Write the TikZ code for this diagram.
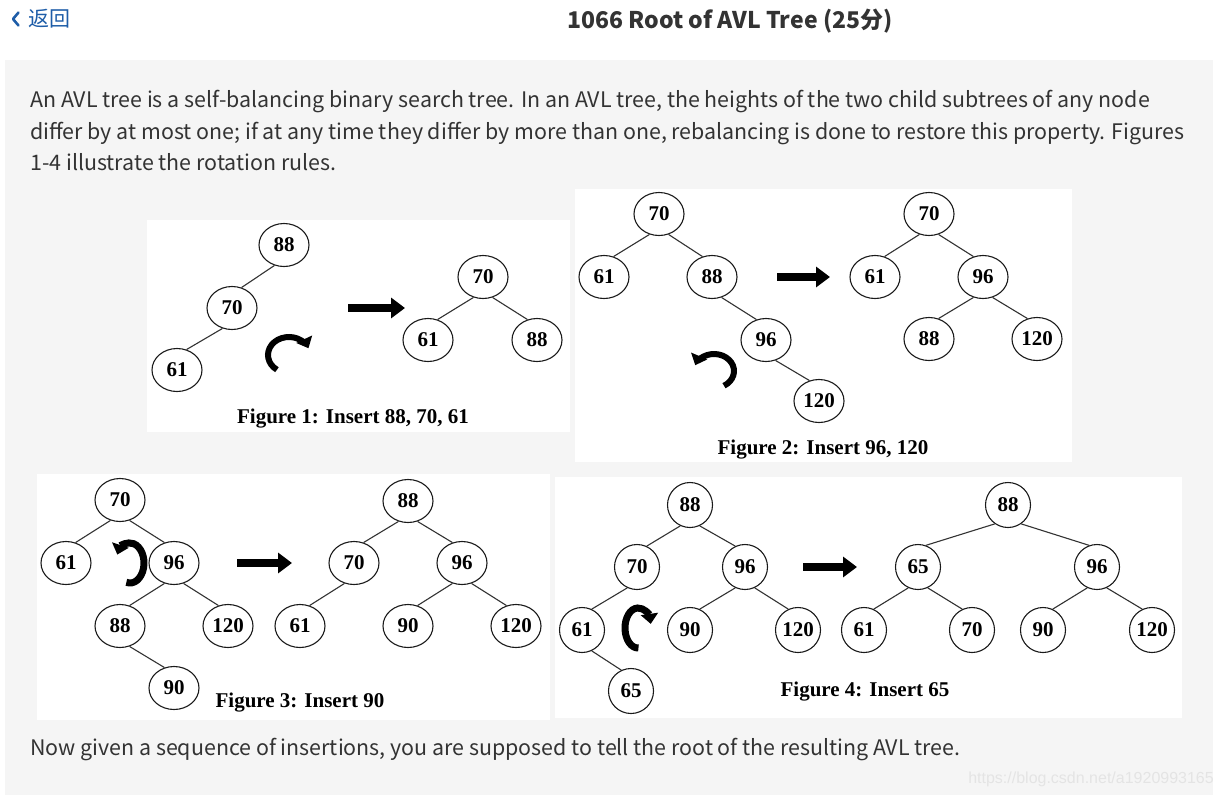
\documentclass[tikz,border=0pt]{standalone}
\usepackage{fontspec}
\usetikzlibrary{shapes.geometric,arrows.meta}
\newfontfamily\webfont{Noto Sans CJK SC}
\newfontfamily\timesfont{Liberation Serif}
\newfontfamily\arialfont{Liberation Sans}
\definecolor{panel}{HTML}{F5F5F5}
\definecolor{txt}{HTML}{333333}
\definecolor{link}{HTML}{1E5DA8}
\definecolor{wm}{HTML}{E4E4E4}
\definecolor{ink}{HTML}{1A1A1A}
\definecolor{edgec}{HTML}{333333}
\begin{document}
\begin{tikzpicture}[x=1pt,y=1pt,
  tn/.style={draw=ink, line width=1.1pt, ellipse, minimum width=50pt, minimum height=43pt, inner sep=0pt, fill=white, text=black, font=\timesfont\bfseries\fontsize{21}{21}\selectfont},
  cn/.style={tn, circle, minimum size=45pt},
  edge/.style={draw=edgec, line width=1.1pt},
  figbox/.style={fill=white, draw=none},
  figcap/.style={font=\timesfont\bfseries\fontsize{21}{21}\selectfont, text=black, inner sep=0pt},
  blockarrow/.style={line width=7.5pt, draw=black, -{Triangle[length=14pt,width=20pt]}},
  rot/.style={line width=6pt, draw=black, -{Triangle[length=10pt,width=17pt]}},
  para/.style={anchor=base west, inner sep=0pt, text=txt, font=\webfont\fontsize{21.4}{24}\selectfont}
]
\useasboundingbox (0,0) rectangle (1224,-795);
\fill[white] (0,0) rectangle (1224,-795);
\fill[panel] (5,-60) rectangle (1213,-795);

% header
\draw[link, line width=2.6pt, line cap=round, line join=round] (18.5,-12.5) -- (13,-19) -- (18.5,-25.5);
\node[anchor=base west, inner sep=0pt, text=link, font=\webfont\fontsize{21}{21}\selectfont] (back) at (28,-27) {返回};
\node[anchor=base, inner sep=0pt, text=txt, font=\webfont\bfseries\fontsize{23}{23}\selectfont] (title) at (730,-28) {1066 Root of AVL Tree (25分)};

% paragraph
\node[para] (p1) at (30,-107) {An AVL tree is a self-balancing binary search tree. In an AVL tree, the heights of the two child subtrees of any node};
\node[para] (p2) at (30,-139) {differ by at most one; if at any time they differ by more than one, rebalancing is done to restore this property. Figures};
\node[para] (p3) at (30,-170) {1-4 illustrate the rotation rules.};
\node[para] (p4) at (30,-755) {Now given a sequence of insertions, you are supposed to tell the root of the resulting AVL tree.};
\node[anchor=base east, inner sep=0pt, text=wm, font=\arialfont\fontsize{16}{16}\selectfont] (wmk) at (1214,-783) {https://blog.csdn.net/a1920993165};

% figure boxes
\fill[figbox] (147,-220) rectangle (570,-432);
\fill[figbox] (575,-189) rectangle (1072,-462);
\fill[figbox] (37,-474) rectangle (550,-720);
\fill[figbox] (555,-477) rectangle (1182,-718);

% left child edge: parent.-115 -- child.65 ; right child edge: parent.-65 -- child.115
% ---------- Figure 1
\node[tn] (f1a) at (284,-245) {88};
\node[tn] (f1b) at (232,-308) {70};
\node[tn] (f1c) at (177,-370) {61};
\node[tn] (f1d) at (483,-277) {70};
\node[tn] (f1e) at (428,-340) {61};
\node[tn] (f1f) at (537,-340) {88};
\draw[edge] (f1a.-115) -- (f1b.65);
\draw[edge] (f1b.-115) -- (f1c.65);
\draw[edge] (f1d.-115) -- (f1e.65);
\draw[edge] (f1d.-65) -- (f1f.115);
\coordinate (a1s) at (348,-308);
\coordinate (a1e) at (405,-308);
\draw[blockarrow] (a1s) -- (a1e);
\coordinate (r1) at ({289+21*cos(235)},{-355+18*sin(235)});
\draw[rot] (r1) arc[start angle=235, end angle=22, x radius=21, y radius=18];
\node[figcap] (c1) at (353,-419) {Figure 1: Insert 88, 70, 61};

% ---------- Figure 2
\node[tn] (f2a) at (659,-214) {70};
\node[tn] (f2b) at (604,-277) {61};
\node[tn] (f2c) at (712,-277) {88};
\node[tn] (f2d) at (766,-340) {96};
\node[tn] (f2e) at (819,-401) {120};
\node[tn] (f2f) at (929,-214) {70};
\node[tn] (f2g) at (875,-277) {61};
\node[tn] (f2h) at (983,-277) {96};
\node[tn] (f2i) at (929,-339) {88};
\node[tn] (f2j) at (1037,-339) {120};
\draw[edge] (f2a.-115) -- (f2b.65);
\draw[edge] (f2a.-65) -- (f2c.115);
\draw[edge] (f2c.-65) -- (f2d.115);
\draw[edge] (f2d.-65) -- (f2e.115);
\draw[edge] (f2f.-115) -- (f2g.65);
\draw[edge] (f2f.-65) -- (f2h.115);
\draw[edge] (f2h.-115) -- (f2i.65);
\draw[edge] (f2h.-65) -- (f2j.115);
\coordinate (a2s) at (777,-277);
\coordinate (a2e) at (830,-277);
\draw[blockarrow] (a2s) -- (a2e);
\coordinate (r2) at ({714+20*cos(-60)},{-371+17*sin(-60)});
\draw[rot] (r2) arc[start angle=-60, end angle=160, x radius=20, y radius=17];
\node[figcap] (c2) at (823,-450) {Figure 2: Insert 96, 120};

% ---------- Figure 3
\node[tn] (f3a) at (120,-500) {70};
\node[tn] (f3b) at (66,-563) {61};
\node[tn] (f3c) at (174,-563) {96};
\node[tn] (f3d) at (120,-626) {88};
\node[tn] (f3e) at (228,-626) {120};
\node[tn] (f3f) at (174,-688) {90};
\node[tn] (f3g) at (408,-501) {88};
\node[tn] (f3h) at (354,-563) {70};
\node[tn] (f3i) at (462,-563) {96};
\node[tn] (f3j) at (300,-626) {61};
\node[tn] (f3k) at (408,-626) {90};
\node[tn] (f3l) at (516,-626) {120};
\draw[edge] (f3a.-115) -- (f3b.65);
\draw[edge] (f3a.-65) -- (f3c.115);
\draw[edge] (f3c.-115) -- (f3d.65);
\draw[edge] (f3c.-65) -- (f3e.115);
\draw[edge] (f3d.-65) -- (f3f.115);
\draw[edge] (f3g.-115) -- (f3h.65);
\draw[edge] (f3g.-65) -- (f3i.115);
\draw[edge] (f3h.-115) -- (f3j.65);
\draw[edge] (f3i.-115) -- (f3k.65);
\draw[edge] (f3i.-65) -- (f3l.115);
\coordinate (a3s) at (237,-563);
\coordinate (a3e) at (292,-563);
\draw[blockarrow] (a3s) -- (a3e);
\coordinate (r3) at ({130+14*cos(-105)},{-563+20*sin(-105)});
\draw[rot, line width=7pt] (r3) arc[start angle=-105, end angle=155, x radius=14, y radius=20];
\node[figcap] (c3) at (300,-703) {Figure 3: Insert 90};

% ---------- Figure 4
\node[cn] (f4a) at (690,-505) {88};
\node[cn] (f4b) at (637,-567) {70};
\node[cn] (f4c) at (745,-567) {96};
\node[cn] (f4d) at (582,-630) {61};
\node[cn] (f4e) at (690,-630) {90};
\node[cn] (f4f) at (798,-630) {120};
\node[cn] (f4g) at (631,-691) {65};
\node[cn] (f4h) at (1008,-505) {88};
\node[cn] (f4i) at (918,-567) {65};
\node[cn] (f4j) at (1097,-567) {96};
\node[cn] (f4k) at (864,-630) {61};
\node[cn] (f4l) at (972,-630) {70};
\node[cn] (f4m) at (1043,-630) {90};
\node[cn] (f4n) at (1152,-630) {120};
\draw[edge] (f4a.-115) -- (f4b.65);
\draw[edge] (f4a.-65) -- (f4c.115);
\draw[edge] (f4b.-115) -- (f4d.65);
\draw[edge] (f4c.-115) -- (f4e.65);
\draw[edge] (f4c.-65) -- (f4f.115);
\draw[edge] (f4d.-65) -- (f4g.115);
\draw[edge] (f4h.-125) -- (f4i.70);
\draw[edge] (f4h.-55) -- (f4j.110);
\draw[edge] (f4i.-115) -- (f4k.65);
\draw[edge] (f4i.-65) -- (f4l.115);
\draw[edge] (f4j.-115) -- (f4m.65);
\draw[edge] (f4j.-65) -- (f4n.115);
\coordinate (a4s) at (803,-567);
\coordinate (a4e) at (857,-567);
\draw[blockarrow] (a4s) -- (a4e);
\coordinate (r4) at ({638+13*cos(272)},{-628+20*sin(272)});
\draw[rot, line width=7pt] (r4) arc[start angle=272, end angle=12, x radius=13, y radius=20];
\node[figcap] (c4) at (865,-692) {Figure 4: Insert 65};
\end{tikzpicture}
\end{document}
